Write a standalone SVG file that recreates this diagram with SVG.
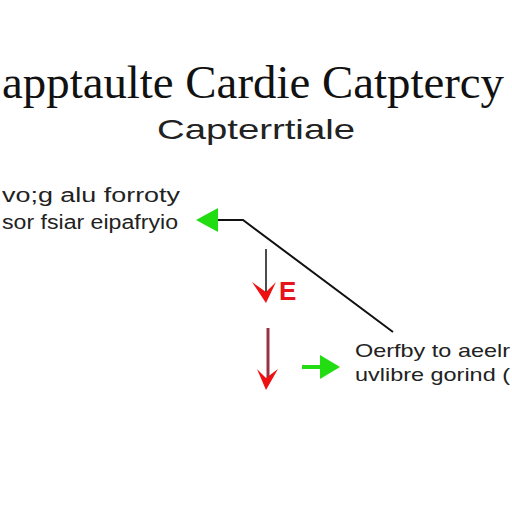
<svg xmlns="http://www.w3.org/2000/svg" width="512" height="512" viewBox="0 0 512 512">
<style>
.t{font-family:"Liberation Serif",serif;fill:#111}
.s{font-family:"Liberation Sans",sans-serif;fill:#222}
</style>
<rect width="512" height="512" fill="#fff"/>
<g id="title">
<text class="t" x="2" y="98" font-size="46" textLength="502" lengthAdjust="spacingAndGlyphs">apptaulte Cardie Catptercy</text>
<text class="s" x="157" y="139" font-size="28" textLength="198" lengthAdjust="spacingAndGlyphs">Capterrtiale</text>
</g>
<g id="node-left">
<text class="s" x="2" y="202" font-size="20" textLength="178" lengthAdjust="spacingAndGlyphs">vo;g alu forroty</text>
<text class="s" x="2" y="229" font-size="20" textLength="176" lengthAdjust="spacingAndGlyphs">sor fsiar eipafryio</text>
</g>
<g id="node-right">
<text class="s" x="355" y="357" font-size="19" textLength="155" lengthAdjust="spacingAndGlyphs">Oerfby to aeelr</text>
<text class="s" x="355" y="381" font-size="19" textLength="155" lengthAdjust="spacingAndGlyphs">uvlibre gorind (</text>
</g>
<g id="node-e">
<text x="279" y="300" font-family="Liberation Sans,sans-serif" font-weight="bold" font-size="26" fill="#e8141c">E</text>
</g>
<g id="connectors" fill="none">
<polyline points="216,220 243,220 393,332" stroke="#111" stroke-width="2"/>
<polygon points="196,220 218,208 218,232" fill="#22dd11"/>
<line x1="266" y1="249" x2="266" y2="292" stroke="#111" stroke-width="1.5"/>
<polygon points="252,282 266,303 276,282 266,292" fill="#ee1111"/>
<line x1="268" y1="328" x2="268" y2="380" stroke="#993344" stroke-width="3"/>
<polygon points="257,369 266,390 278,369 266,378" fill="#ee1111"/>
<line x1="302" y1="367" x2="322" y2="367" stroke="#22dd11" stroke-width="4"/>
<polygon points="340,367 320,355 320,379" fill="#22dd11"/>
</g>
</svg>
